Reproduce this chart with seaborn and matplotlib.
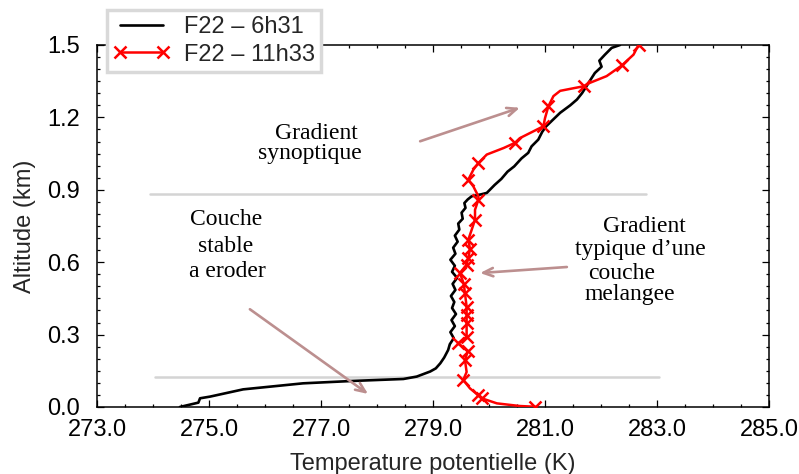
import numpy as np
import pandas as pd
import matplotlib
matplotlib.use('Agg')
import matplotlib.pyplot as plt
from matplotlib.ticker import MultipleLocator, FormatStrFormatter
import seaborn as sns

# Profile F22 - 6h31 (potential temperature in K, altitude in km)
black_T = [274.48, 274.81, 274.84, 275.02, 275.61, 276.68, 277.58, 278.47, 278.71, 278.95,
           279.05, 279.13, 279.20, 279.27, 279.30, 279.37, 279.31, 279.39, 279.33, 279.41,
           279.34, 279.38, 279.32, 279.40, 279.35, 279.43, 279.34, 279.39, 279.31, 279.40,
           279.36, 279.44, 279.39, 279.47, 279.45, 279.53, 279.51, 279.58, 279.56, 279.62,
           279.69, 279.84, 279.96, 280.10, 280.22, 280.33, 280.45, 280.58, 280.70, 280.76,
           280.88, 280.95, 281.02, 281.27, 281.45, 281.57, 281.66, 281.74, 281.81, 281.89,
           282.01, 281.97, 282.07, 282.19, 282.34]
black_z = [0.000, 0.018, 0.036, 0.043, 0.073, 0.098, 0.108, 0.116, 0.126, 0.147,
           0.160, 0.181, 0.205, 0.236, 0.260, 0.285, 0.310, 0.335, 0.360, 0.385,
           0.410, 0.435, 0.460, 0.485, 0.510, 0.535, 0.560, 0.585, 0.610, 0.635,
           0.660, 0.685, 0.710, 0.735, 0.760, 0.780, 0.805, 0.825, 0.845, 0.860,
           0.873, 0.880, 0.887, 0.920, 0.945, 0.975, 0.997, 1.030, 1.053, 1.080,
           1.108, 1.140, 1.163, 1.219, 1.250, 1.274, 1.300, 1.329, 1.355, 1.384,
           1.410, 1.435, 1.460, 1.488, 1.500]

# Profile F22 - 11h33
red_T = [280.82, 280.55, 280.14, 279.87, 279.80, 279.66, 279.54, 279.60, 279.57, 279.62,
         279.45, 279.60, 279.60, 279.60, 279.60, 279.57, 279.55, 279.48, 279.60, 279.63,
         279.66, 279.63, 279.69, 279.75, 279.75, 279.81, 279.81, 279.72, 279.63, 279.72,
         279.81, 279.96, 280.26, 280.46, 280.55, 280.79, 280.97, 281.00, 281.06, 281.15,
         281.27, 281.69, 281.80, 282.10, 282.37, 282.58, 282.67]
red_z = [0.001, 0.004, 0.015, 0.036, 0.050, 0.077, 0.112, 0.145, 0.195, 0.230,
         0.264, 0.290, 0.347, 0.380, 0.416, 0.472, 0.510, 0.555, 0.590, 0.617,
         0.655, 0.693, 0.734, 0.776, 0.817, 0.859, 0.873, 0.914, 0.942, 0.983,
         1.011, 1.046, 1.073, 1.094, 1.114, 1.142, 1.163, 1.197, 1.246, 1.288,
         1.310, 1.329, 1.343, 1.371, 1.415, 1.460, 1.500]
red_mark = [1, 0, 0, 1, 1, 0, 1, 0, 1, 1,
            1, 1, 1, 1, 1, 1, 1, 1, 1, 1,
            1, 1, 0, 1, 0, 1, 0, 0, 1, 0,
            1, 0, 0, 1, 0, 0, 1, 0, 1, 0,
            0, 1, 0, 0, 1, 0, 1]

labels = ['F22 – 6h31', 'F22 – 11h33']

sns.set_style('ticks')
plt.rcParams['font.family'] = ['Liberation Sans', 'DejaVu Sans']

black_df = pd.DataFrame({'T': black_T, 'z': black_z})
red_df = pd.DataFrame({'T': red_T, 'z': red_z})
mark_idx = [i for i, m in enumerate(red_mark) if m]

fig = plt.figure(figsize=(7.99, 4.74), dpi=100)
ax = fig.add_axes([0.1214, 0.1414, 0.8411, 0.7637])

# layer boundaries
ax.plot([273.95, 282.81], [0.884, 0.884], color='#d4d4d4', lw=1.8, zorder=1)
ax.plot([274.04, 283.04], [0.125, 0.125], color='#d4d4d4', lw=1.8, zorder=1)

sns.lineplot(data=black_df, x='T', y='z', sort=False, estimator=None, color='black',
             lw=1.9, label=labels[0], ax=ax, zorder=3)
sns.lineplot(data=red_df, x='T', y='z', sort=False, estimator=None, color='red',
             lw=1.8, marker='x', markersize=9, markeredgewidth=1.8, markeredgecolor='red',
             markevery=mark_idx, label=labels[1], ax=ax, zorder=4)

ax.set_xlim(273, 285)
ax.set_ylim(0, 1.5)
ax.xaxis.set_major_locator(MultipleLocator(2, offset=1))
ax.xaxis.set_minor_locator(MultipleLocator(0.5))
ax.yaxis.set_major_locator(MultipleLocator(0.3))
ax.yaxis.set_minor_locator(MultipleLocator(0.05))
ax.xaxis.set_major_formatter(FormatStrFormatter('%.1f'))
ax.yaxis.set_major_formatter(FormatStrFormatter('%.1f'))
ax.tick_params(which='both', direction='in', top=True, right=True, width=0.9, colors='black')
ax.tick_params(which='major', length=5, labelsize=17)
ax.tick_params(axis='x', which='major', pad=9)
ax.tick_params(axis='y', which='major', pad=12)
ax.tick_params(which='minor', length=2.5)
for s in ax.spines.values():
    s.set_linewidth(1.1)
    s.set_color('black')

ax.set_xlabel('Temperature potentielle (K)', fontsize=17, labelpad=8)
ax.set_ylabel('Altitude (km)', fontsize=17, labelpad=8)

serif = dict(family=['Liberation Serif', 'DejaVu Serif'], fontsize=17, color='black')
ax.text(276.92, 1.111, 'Gradient', ha='center', va='baseline', **serif)
ax.text(276.80, 1.028, 'synoptique', ha='center', va='baseline', **serif)
ax.text(275.30, 0.755, 'Couche', ha='center', va='baseline', **serif)
ax.text(275.30, 0.644, 'stable', ha='center', va='baseline', **serif)
ax.text(275.32, 0.538, 'a eroder', ha='center', va='baseline', **serif)
ax.text(282.04, 0.725, 'Gradient', ha='left', va='baseline', **serif)
ax.text(281.54, 0.631, 'typique d\u2019une', ha='left', va='baseline', **serif)
ax.text(281.77, 0.531, 'couche', ha='left', va='baseline', **serif)
ax.text(281.71, 0.444, 'melangee', ha='left', va='baseline', **serif)

arrow = dict(arrowstyle='->,head_length=0.7,head_width=0.3', color='#bc8f8f', lw=1.9,
             shrinkA=0, shrinkB=0)
ax.annotate('', xy=(280.55, 1.240), xytext=(278.77, 1.101), arrowprops=arrow)
ax.annotate('', xy=(277.84, 0.054), xytext=(275.73, 0.405), arrowprops=arrow)
ax.annotate('', xy=(279.84, 0.555), xytext=(281.39, 0.580), arrowprops=arrow)

leg = ax.legend(loc='upper left', bbox_to_anchor=(0.134, 0.979), bbox_transform=fig.transFigure,
                fontsize=17, frameon=True, fancybox=False, framealpha=1, edgecolor='#d9d9d9',
                borderaxespad=0, borderpad=0.25, handlelength=2.4, handletextpad=0.6,
                labelspacing=0.25, numpoints=2)
leg.get_frame().set_linewidth(2.5)
leg.set_zorder(10)

fig.savefig('out.png', dpi=100)
